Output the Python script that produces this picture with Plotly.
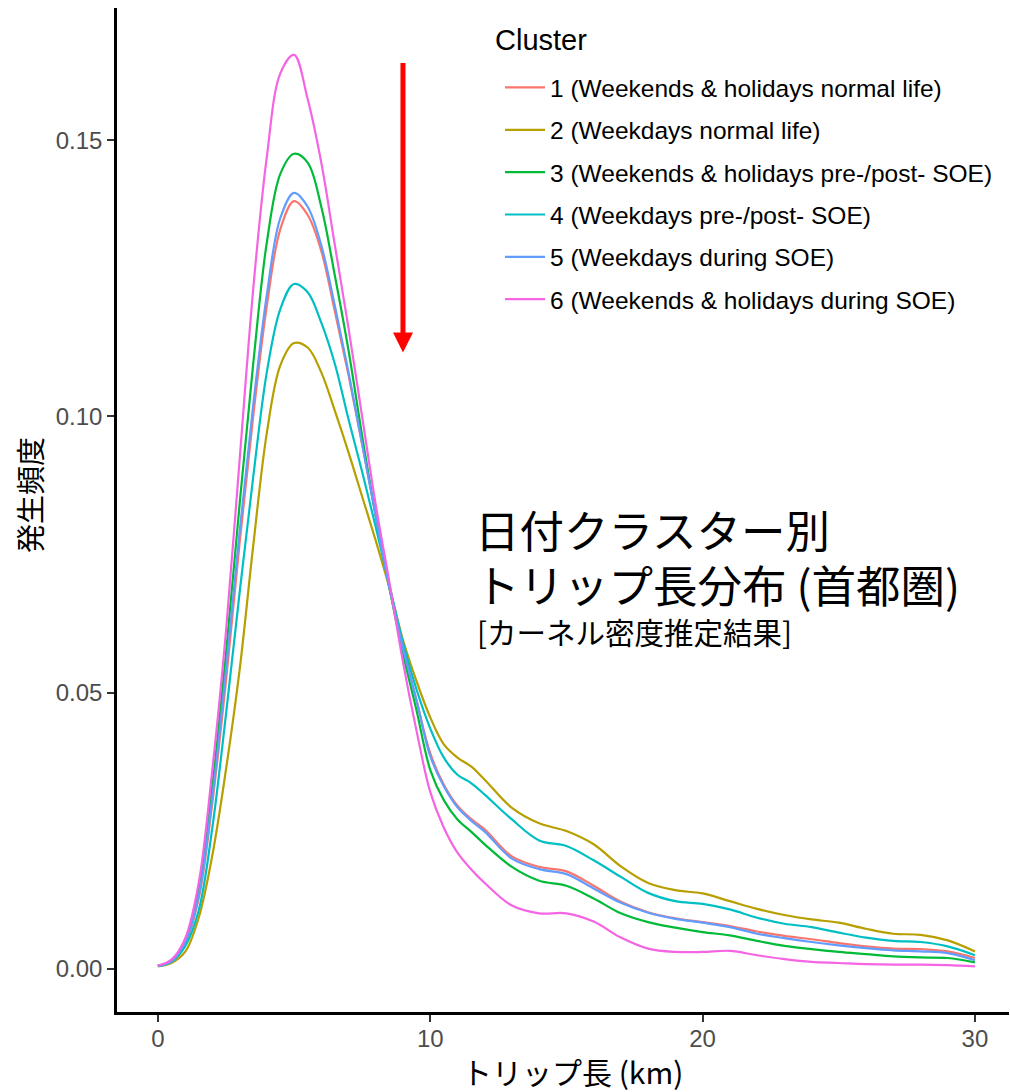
import plotly.graph_objects as go

# ---- data ----
trip_km = [0, 0.5, 1, 1.5, 2, 2.5, 3, 3.5, 4, 4.5, 5, 5.5, 6, 6.5, 7, 7.5, 8, 8.5, 9, 9.5,
           10, 10.5, 11, 11.5, 12, 13, 14, 15, 16, 17, 18, 19, 20, 21, 22, 23, 24, 25, 26,
           27, 28, 29, 30]

cluster_names = [
    "1 (Weekends & holidays normal life)",
    "2 (Weekdays normal life)",
    "3 (Weekends & holidays pre-/post- SOE)",
    "4 (Weekdays pre-/post- SOE)",
    "5 (Weekdays during SOE)",
    "6 (Weekends & holidays during SOE)",
]

density_c1 = [0.0005, 0.0012, 0.0046, 0.0127, 0.030, 0.052, 0.077, 0.100, 0.120, 0.134, 0.1390,
              0.1365, 0.130, 0.119, 0.1075, 0.095, 0.082, 0.069, 0.0583, 0.0485, 0.039, 0.0333,
              0.0295, 0.0271, 0.0252, 0.0203, 0.0184, 0.0176, 0.0150, 0.0121, 0.0102, 0.0091,
              0.0084, 0.0077, 0.0067, 0.0059, 0.0053, 0.0046, 0.0040, 0.0036, 0.0035, 0.0031,
              0.0019]
density_c2 = [0.0004, 0.0010, 0.0030, 0.0092, 0.0205, 0.036, 0.054, 0.0765, 0.097, 0.1093, 0.1133,
              0.1125, 0.108, 0.101, 0.0935, 0.0855, 0.0775, 0.069, 0.0595, 0.052, 0.0455, 0.0406,
              0.0382, 0.0366, 0.0342, 0.0291, 0.0263, 0.0249, 0.0225, 0.0185, 0.0155, 0.0142,
              0.0136, 0.0122, 0.0108, 0.0097, 0.0089, 0.0083, 0.0072, 0.0063, 0.0061, 0.0051,
              0.0031]
density_c3 = [0.0005, 0.0014, 0.0050, 0.0140, 0.033, 0.057, 0.084, 0.1095, 0.1315, 0.1440, 0.1476,
              0.1460, 0.138, 0.1255, 0.112, 0.0965, 0.0820, 0.069, 0.057, 0.0467, 0.036, 0.0305,
              0.027, 0.0248, 0.0225, 0.0184, 0.0159, 0.0150, 0.0127, 0.0100, 0.0084, 0.0074,
              0.0066, 0.0060, 0.0050, 0.0041, 0.0035, 0.0030, 0.0026, 0.0022, 0.0020, 0.0019,
              0.0011]
density_c4 = [0.0004, 0.0012, 0.0040, 0.0105, 0.0255, 0.046, 0.068, 0.089, 0.108, 0.1195, 0.1240,
              0.1225, 0.117, 0.1095, 0.0995, 0.0900, 0.0800, 0.0695, 0.0590, 0.0505, 0.0435, 0.0382,
              0.0351, 0.0336, 0.0315, 0.0270, 0.0232, 0.0222, 0.0196, 0.0166, 0.0137, 0.0122,
              0.0117, 0.0107, 0.0092, 0.0081, 0.0075, 0.0065, 0.0056, 0.0050, 0.0048, 0.0040,
              0.0024]
density_c5 = [0.0005, 0.0013, 0.0048, 0.0132, 0.031, 0.054, 0.079, 0.102, 0.122, 0.136, 0.1405,
              0.138, 0.131, 0.120, 0.108, 0.095, 0.082, 0.069, 0.058, 0.0485, 0.0385, 0.033,
              0.0292, 0.0268, 0.0248, 0.0199, 0.0180, 0.0171, 0.0145, 0.0119, 0.0101, 0.0090,
              0.0083, 0.0075, 0.0063, 0.0055, 0.0048, 0.0042, 0.0037, 0.0033, 0.0031, 0.0028,
              0.0015]
density_c6 = [0.0005, 0.0016, 0.0054, 0.0155, 0.036, 0.061, 0.092, 0.123, 0.147, 0.1622, 0.1655,
              0.1575, 0.146, 0.131, 0.116, 0.100, 0.084, 0.070, 0.0555, 0.043, 0.032, 0.0255,
              0.021, 0.018, 0.0155, 0.0114, 0.0100, 0.0100, 0.0085, 0.0056, 0.0036, 0.0030,
              0.0030, 0.0032, 0.0024, 0.0017, 0.0012, 0.0010, 0.0008, 0.0007, 0.0007, 0.0006,
              0.0004]

series = [density_c1, density_c2, density_c3, density_c4, density_c5, density_c6]
colors = ["#F8766D", "#B79F00", "#00BA38", "#00BFC4", "#619CFF", "#F564E3"]

x_ticks = [0, 10, 20, 30]
y_ticks = [0.00, 0.05, 0.10, 0.15]

arrow_x = 9
arrow_y_from = 0.1643
arrow_y_to = 0.1116

title_lines = ["日付クラスター別", "トリップ長分布 (首都圏)", "[カーネル密度推定結果]"]
x_title = "トリップ長 (km)"
y_title = "発生頻度"
legend_title = "Cluster"

LAT = "Liberation Sans, Arial, Helvetica, sans-serif"
CJK = "Noto Sans CJK JP, sans-serif"

fig = go.Figure()
for i, (name, ys, col) in enumerate(zip(cluster_names, series, colors)):
    assert len(ys) == len(trip_km)
    fig.add_trace(go.Scatter(
        x=trip_km, y=ys, mode="lines", name=name,
        line=dict(color=col, width=2.2, shape="spline", smoothing=1.0),
        legendgroup=f"g{i}",
    ))

# arrow
fig.add_annotation(x=arrow_x, y=arrow_y_to, ax=arrow_x, ay=arrow_y_from,
                   xref="x", yref="y", axref="x", ayref="y", text="",
                   showarrow=True, arrowhead=2, arrowsize=0.8, arrowwidth=5,
                   arrowcolor="#FF0000", standoff=0)

# in-plot title text
fig.add_annotation(x=11.57, y=0.0798, xref="x", yref="y", text=title_lines[0],
                   showarrow=False, xanchor="left", yanchor="middle",
                   font=dict(family=CJK, size=44.5, color="#000000"))
fig.add_annotation(x=11.57, y=0.0698, xref="x", yref="y", text=title_lines[1],
                   showarrow=False, xanchor="left", yanchor="middle",
                   font=dict(family=CJK, size=44.5, color="#000000"))
fig.add_annotation(x=11.65, y=0.0611, xref="x", yref="y", text=title_lines[2],
                   showarrow=False, xanchor="left", yanchor="middle",
                   font=dict(family=CJK, size=29.5, color="#000000"))

# axis titles
fig.add_annotation(x=0.511, y=(1012 - 1071) / 1004, xref="paper", yref="paper", text=x_title,
                   showarrow=False, xanchor="center", yanchor="middle",
                   font=dict(family=CJK, size=30, color="#000000"))
fig.add_annotation(x=-0.0985, y=0.515, xref="paper", yref="paper", text=y_title,
                   showarrow=False, xanchor="center", yanchor="middle", textangle=-90,
                   font=dict(family=CJK, size=29, color="#000000"))

# legend title
fig.add_annotation(x=(493 - 117) / 892, y=(1012 - 40) / 1004, xref="paper", yref="paper",
                   text=legend_title, showarrow=False, xanchor="left", yanchor="middle",
                   font=dict(family=LAT, size=29, color="#000000"))

fig.update_layout(
    width=1010, height=1092,
    margin=dict(l=117, r=1, t=8, b=80, pad=0),
    paper_bgcolor="white", plot_bgcolor="white",
    showlegend=True,
    legend=dict(
        font=dict(family=LAT, size=24.5, color="#000000"),
        x=(500 - 117) / 892, y=(1012 - 65) / 1004, xanchor="left", yanchor="top",
        bgcolor="rgba(0,0,0,0)", borderwidth=0,
        tracegroupgap=7.5, itemwidth=40,
    ),
    xaxis=dict(
        range=[-1.5, 31.25], tickvals=x_ticks, ticktext=[str(v) for v in x_ticks],
        showgrid=False, zeroline=False, showline=True, linecolor="#000000", linewidth=2.5,
        ticks="outside", ticklen=7, tickwidth=2, tickcolor="#333333",
        ticklabelstandoff=-4,
        tickfont=dict(family=LAT, size=24, color="#4D4D4D"),
    ),
    yaxis=dict(
        range=[-0.00788, 0.1740], tickvals=y_ticks, tickformat=".2f",
        showgrid=False, zeroline=False, showline=True, linecolor="#000000", linewidth=2.5,
        ticks="outside", ticklen=7, tickwidth=2, tickcolor="#333333",
        tickfont=dict(family=LAT, size=24, color="#4D4D4D"),
    ),
)

fig.write_html("out.html")
